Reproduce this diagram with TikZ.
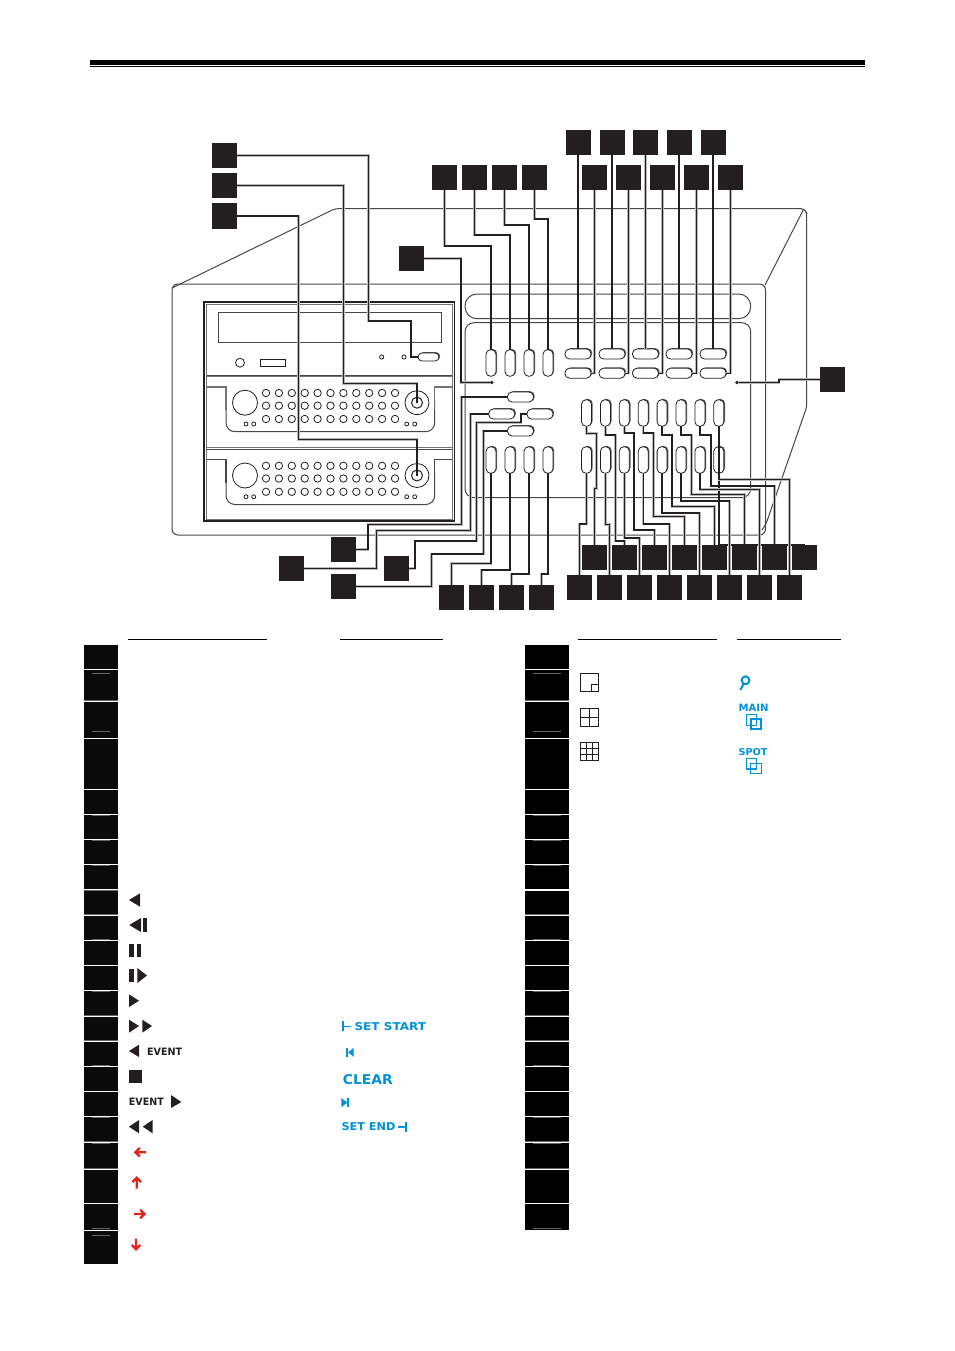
\documentclass[tikz,border=0pt]{standalone}
\usepackage{fontspec}
\usepackage{graphicx}
\setmainfont{DejaVu Sans}
\usetikzlibrary{shadows}
\definecolor{ink}{HTML}{231F20}
\definecolor{blu}{HTML}{0091DA}
\definecolor{rd}{HTML}{E2231A}
\newcommand{\lab}[3]{\resizebox{#1pt}{#2pt}{\bfseries #3}}
\tikzset{
  sq/.style={rectangle,fill=ink,minimum width=25pt,minimum height=25pt,inner sep=0pt,outer sep=0pt},
  wire/.style={draw=ink,line width=1.4pt,preaction={draw=black!28,line width=2.5pt}},
  case/.style={draw=black!72,line width=1pt},
  gr/.style={draw=black!55,line width=.9pt},
  btnbase/.style={rectangle,draw=ink,line width=.8pt,fill=white,rounded corners=4.5pt,inner sep=0pt,outer sep=0pt,general shadow={shadow xshift=1.2pt,shadow yshift=.8pt,fill=black!65}},
  hbtn/.style={btnbase,minimum width=26pt,minimum height=10pt},
  vbtn/.style={btnbase,minimum width=10pt,minimum height=26.5pt},
  hole/.style={draw=ink,line width=.8pt,fill=white},
  dot/.style={circle,fill=ink,minimum size=3.8pt,inner sep=0pt,outer sep=0pt},
  cellL/.style={fill=black!96},
  cellR/.style={fill=black},
  ico/.style={fill=ink},
  blue/.style={text=blu,inner sep=0pt,anchor=west},
  blk/.style={text=ink,inner sep=0pt,anchor=west},
  bfill/.style={fill=blu},
  bm/.style={draw=blu,line width=1pt},
  redarrow/.style={draw=rd,line width=2.3pt},
  hrule/.style={draw=black,line width=1pt},
  greymark/.style={draw=black!60,line width=.9pt},
}
\begin{document}
\begin{tikzpicture}[x=1pt,y=-1pt]
\useasboundingbox (0,0) rectangle (954,1351);
% top rule
\fill[black] (90,60) rectangle (865,65.3);
\draw[black,line width=1pt] (90,66.7) -- (865,66.7);
% ---------- chassis
\draw[case,rounded corners=3pt] (172,288) -- (335,208.7) -- (804,208.7) -- (806.7,213) -- (806.7,407) -- (766,524) -- (762,530);
\draw[case] (765,285) -- (803.5,209.5);
\draw[case,rounded corners=6pt] (172,284) rectangle (765.5,535);
\draw[case,draw=ink,line width=1.1pt] (204,302) rectangle (454.7,521);
\draw[gr] (206.5,304.5) rectangle (452,519);
\draw[case] (206.5,375) -- (452,375);
\draw[gr,line width=1.4pt] (206.5,376.5) -- (452,376.5);
\draw[gr,line width=1pt] (206.5,447) -- (452,447);
\draw[case] (206.5,449) -- (452,449);
\draw[case] (218,312) rectangle (441,342);
\draw[hole] (240,362.7) circle (4.5);
\draw[hole] (260,359) rectangle (285.5,366);
\draw[hole] (381.7,357) circle (2.1);
\draw[hole] (404,357) circle (2.1);
\foreach \yo/\c in {0/gr,72.8/case}{
  \begin{scope}[yshift=-\yo pt]
    \draw[case,rounded corners=9pt] (226,400) -- (226,431.7) -- (434.7,431.7) -- (434.7,400);
    \draw[\c,line width=1.1pt] (206.5,387) -- (226,387) -- (226,410);
    \draw[\c,line width=1.1pt] (452,387) -- (434.7,387) -- (434.7,410);
    \draw[hole] (245,402.7) circle (12.5);
    \foreach \px in {246,253.7,406.7,414.7}{\draw[hole] (\px,424) circle (2);}
    \draw[hole] (417,402.7) circle (12);
    \draw[hole,line width=1pt] (417,402.7) circle (5.5);
    \foreach \gy in {393,405.7,419}{
      \foreach \k in {0,...,10}{\draw[hole] ({266+12.9*\k},\gy) circle (3.7);}
    }
  \end{scope}
}
\draw[case,rounded corners=12pt] (465,294) rectangle (750.7,318.7);
\draw[case,rounded corners=9pt] (465,322.7) rectangle (750.7,497.7);
% ---------- named anchors and buttons
\coordinate (k1) at (417,402.7);
\coordinate (k2) at (417,475.5);
\node[dot] (d1) at (491.7,382.5) {};
\node[dot] (d2) at (737,382.5) {};
\node[hbtn,minimum width=21pt,minimum height=8pt,rounded corners=4pt] (eject) at (428.5,357) {};
\foreach \i/\x in {1/491,2/510,3/529,4/548}{
  \node[vbtn] (vT\i) at (\x,363) {};
  \node[vbtn] (vL\i) at (\x,460) {};
}
\foreach \i/\x in {1/578,2/612,3/645.5,4/679,5/713}{
  \node[hbtn] (hA\i) at (\x,354) {};
  \node[hbtn] (hB\i) at (\x,373.2) {};
}
\node[hbtn] (hP) at (520.5,397) {};
\node[hbtn] (hQ) at (501.7,414) {};
\node[hbtn] (hR) at (540,414) {};
\node[hbtn] (hS) at (520.5,431) {};
\foreach \i/\x in {1/586.5,2/605.4,3/624.3,4/643.2,5/662.1,6/681,7/699.9,8/718.8}{
  \node[vbtn] (gU\i) at (\x,413) {};
  \node[vbtn] (gL\i) at (\x,460) {};
}
% ---------- connectors are drawn first so that the squares sit on top of them
\node[sq] (sq1) at (224.5,155.5) {};
\node[sq] (sq2) at (224.5,185.5) {};
\node[sq,minimum height=26pt] (sq3) at (224.5,216) {};
\node[sq] (sq4) at (411.5,258.5) {};
\node[sq] (sq5) at (832.5,379.5) {};
\foreach \i/\x in {1/444.5,2/474.5,3/504.5,4/534.5}{\node[sq] (tL\i) at (\x,177.5) {};}
\foreach \i/\x in {1/578,2/612,3/645.5,4/679,5/713}{\node[sq] (tA\i) at (\x,142.5) {};}
\foreach \i/\x in {1/594.5,2/628.5,3/662.5,4/696.5,5/730.5}{\node[sq] (tB\i) at (\x,177.5) {};}
\node[sq] (sA) at (343.5,549.5) {};
\node[sq] (sB) at (291.5,568.5) {};
\node[sq] (sC) at (396.5,568.5) {};
\node[sq] (sD) at (343.5,586.5) {};
\foreach \i/\x in {1/451.5,2/481.5,3/511.5,4/541.5}{\node[sq] (r\i) at (\x,597.5) {};}
\foreach \i/\x in {1/594.5,2/624.5,3/654.5,4/684.5,5/714.5,6/744.5,7/774.5,8/804.5}{\node[sq] (u\i) at (\x,557.5) {};}
\foreach \i/\x in {1/579.5,2/609.5,3/639.5,4/669.5,5/699.5,6/729.5,7/759.5,8/789.5}{\node[sq] (l\i) at (\x,587.5) {};}
% ---------- connectors
\draw[wire] (sq1.east) -| (368.5,321) -| (411,357) -- (eject.west);
\draw[wire] (sq2.east) -| (343.5,383.5) -| (k1);
\draw[wire] (sq3.east) -| (298.7,439.5) -| (k2);
\draw[wire] (sq4.east) -| (461,382.5) -- (d1);
\draw[wire] (sq5.west) -| (779,382.5) -- (d2);
\foreach \i/\x/\y in {1/491/246,2/510/235,3/529/225,4/548/219}{
  \draw[wire] (tL\i.south) |- (\x,\y) -- (vT\i.north);
}
\foreach \i in {1,...,5}{
  \draw[wire] (tA\i.south) -- (hA\i.north);
  \draw[wire] (tB\i.south) |- (hB\i.east);
}
\draw[wire] (sA.east) -| (368,524.3) -| (461.7,397) -- (hP.west);
\draw[wire] (sB.east) -| (376.7,530.3) -| (470.7,414) -- (hQ.west);
\draw[wire] (sC.east) -| (415,541) -| (476.7,422.3) -| (521,414) -- (hR.west);
\draw[wire] (sD.east) -| (431.7,554) -| (483.3,431) -- (hS.west);
\foreach \i/\x/\y in {1/491/563.3,2/510/570,3/529/574,4/548/574}{
  \draw[wire] (r\i.north) |- (\x,\y) -- (vL\i.south);
}
\foreach \i/\ya/\xa/\yb/\sx in {1/433.3/596.7/488.3/594.5,2/435/615.5/541/624.5,3/433/634/530/654.5,4/433/653.3/516.7/684.5,5/435/672/506.7/714.5,6/435/691.7/494.3/744.5,7/435/711/486/774.5}{
  \draw[wire] (gU\i.south) |- (\xa,\ya) |- (\sx,\yb) -- (u\i.north);
}
\draw[wire] (gU8.south) |- (u8.north);
\foreach \i/\yb/\sx in {1/524/579.5,2/524.3/609.5,3/538/639.5,4/524/669.5,5/513/699.5,6/501/729.5,7/489.3/759.5,8/479.3/789.5}{
  \draw[wire] (gL\i.south) |- (\sx,\yb) -- (l\i.north);
}
% ---------- table rules
\draw[hrule] (128,639) -- (267,639);
\draw[hrule] (340,639) -- (443,639);
\draw[hrule] (578,639) -- (717,639);
\draw[hrule] (737,639) -- (841,639);
% ---------- key columns
\foreach \a/\b in {645/669,670/701,702/738,739/789,790/814,815/839,840/864,865/889,890/915,916/940,941/965,966/990,991/1016,1017/1041,1042/1066,1067/1091,1092/1116,1117/1142,1143/1169,1170/1203,1204/1230,1231/1264}{
  \fill[cellL] (84,\a) rectangle (118,\b);
}
\foreach \a/\b in {645/669,670/701,702/738,739/789,790/814,815/839,840/864,865/889,890.7/915,916/940,941/965,966/990,991/1016,1017/1041,1042/1066,1067/1091,1092/1116,1117/1142,1143/1169,1170/1203,1204/1230}{
  \fill[cellR] (525,\a) rectangle (569,\b);
}
\foreach \y in {673.3,731,815.5,840.5,865.5,939,991.5,1065,1117.5,1143.5,1228,1235.5}{
  \draw[greymark] (92,\y) -- (110,\y);
}
\foreach \y in {700.5,890.5,914.5,1015.5,1040.5,1141.5,1168.5}{
  \draw[greymark] (84,\y) -- (118,\y);
}
\foreach \y in {673.3,731,815.5,840.5,865.5,939,991.5,1065,1117.5,1143.5,1228}{
  \draw[greymark] (533,\y) -- (561,\y);
}
\foreach \y in {700.5,914.5,1015.5,1040.5,1141.5,1168.5}{
  \draw[greymark] (525,\y) -- (569,\y);
}
% ---------- black key symbols
\fill[ico] (129,900) -- (140,893.3) -- (140,906.7) -- cycle;
\fill[ico] (129.3,925) -- (141,918) -- (141,932) -- cycle;
\fill[ico] (143.3,918.3) rectangle (147,931.7);
\fill[ico] (129,944) rectangle (133.7,957);
\fill[ico] (137.3,944) rectangle (141,957);
\fill[ico] (129,969) rectangle (134,982);
\fill[ico] (137.3,968) -- (147,975.5) -- (137.3,983) -- cycle;
\fill[ico] (129,994.3) -- (139,1000.7) -- (129,1007) -- cycle;
\fill[ico] (129,1019.7) -- (139,1026) -- (129,1032.7) -- cycle;
\fill[ico] (142.3,1019.7) -- (152,1026) -- (142.3,1032.7) -- cycle;
\fill[ico] (139,1044.7) -- (129,1051) -- (139,1057) -- cycle;
\node[blk] (evP) at (147,1051.3) {\lab{35}{7.4}{EVENT}};
\fill[ico] (129,1070) rectangle (142,1083);
\node[blk] (evN) at (128.7,1102) {\lab{35}{7.4}{EVENT}};
\fill[ico] (171,1095) -- (181.3,1102) -- (171,1108) -- cycle;
\fill[ico] (139,1120) -- (129,1126.7) -- (139,1133.3) -- cycle;
\fill[ico] (152.7,1120) -- (142.7,1126.7) -- (152.7,1133.3) -- cycle;
% ---------- red arrows
\draw[redarrow] (146,1152.3) -- (135.5,1152.3) (139.8,1148) -- (135.4,1152.3) -- (139.8,1156.6);
\draw[redarrow] (136.7,1188.5) -- (136.7,1178) (132.4,1182) -- (136.7,1177.8) -- (141,1182);
\draw[redarrow] (134,1214) -- (144.5,1214) (140.2,1209.7) -- (144.6,1214) -- (140.2,1218.3);
\draw[redarrow] (136,1238.5) -- (136,1249) (131.7,1245) -- (136,1249.2) -- (140.3,1245);
% ---------- blue labels
\fill[bfill] (341.8,1021.3) rectangle (343.8,1031.3);
\fill[bfill] (343.8,1025.5) rectangle (350.7,1027.2);
\node[blue] (setstart) at (354.3,1026.5) {\lab{71.7}{8}{SET START}};
\fill[bfill] (346,1047.7) rectangle (348.2,1057);
\fill[bfill] (353.7,1047.7) -- (348.2,1052.3) -- (353.7,1057) -- cycle;
\node[blue] (clear) at (342.7,1080) {\lab{50}{10}{CLEAR}};
\fill[bfill] (341.3,1098) -- (347.3,1102.6) -- (341.3,1107.2) -- cycle;
\fill[bfill] (347.2,1098) rectangle (349.4,1107.2);
\node[blue] (setend) at (341.3,1127) {\lab{54}{8}{SET END}};
\fill[bfill] (398.3,1126.2) rectangle (405,1128);
\fill[bfill] (405,1122) rectangle (407,1132);
% ---------- right key symbols
\draw[ink,line width=1pt] (580.3,673.3) rectangle (598.7,691.7);
\draw[ink,line width=1pt] (591.3,691.7) |- (598.7,684.3);
\draw[ink,line width=1pt] (580.3,708.3) rectangle (598.7,726.7);
\draw[ink,line width=1pt] (589.5,708.3) -- (589.5,726.7) (580.3,717.5) -- (598.7,717.5);
\draw[ink,line width=1pt] (580.3,742.3) rectangle (598.7,760.7);
\draw[ink,line width=1pt] (586.4,742.3) -- (586.4,760.7) (592.6,742.3) -- (592.6,760.7) (580.3,748.4) -- (598.7,748.4) (580.3,754.6) -- (598.7,754.6);
\draw[blu,line width=2pt] (745.5,680.3) circle (3.9);
\draw[blu,line width=2pt] (743.6,684) -- (740.3,690);
\node[blue] (main) at (738.3,708) {\lab{30}{7.4}{MAIN}};
\draw[bm] (746.3,714.3) rectangle (756.7,725);
\draw[bm,line width=1.5pt] (751,719) rectangle (761,729);
\node[blue] (spot) at (738.3,752.5) {\lab{29}{7}{SPOT}};
\draw[bm,line width=1.4pt] (746.3,758.6) rectangle (756.5,769);
\draw[bm] (750.7,763.5) rectangle (761,773.7);
\end{tikzpicture}
\end{document}
